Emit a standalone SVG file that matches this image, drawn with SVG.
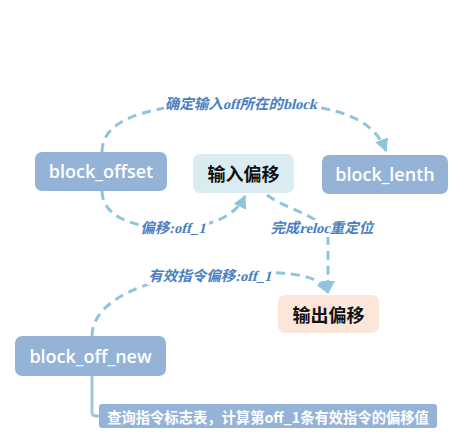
<svg xmlns="http://www.w3.org/2000/svg" width="464" height="444" viewBox="0 0 464 444">
<defs>
<marker id="ah" markerUnits="userSpaceOnUse" markerWidth="14" markerHeight="14" viewBox="0 0 14 14" refX="12" refY="7" orient="auto">
<path d="M0,0 L13,7 L0,14 z" fill="#8ec5db"/>
</marker>
<style>
.dash{fill:none;stroke:#8ec5db;stroke-width:3;stroke-dasharray:9 6;}
.solid{fill:none;stroke:#9ec8e0;stroke-width:3;}
.lbl{font-family:"Liberation Serif","Noto Sans CJK SC",serif;font-weight:bold;font-size:14.5px;fill:#4b7fc2;text-anchor:middle;dominant-baseline:central;}
.lblbg{fill:#ffffff;}
.nb{fill:#95b3d7;}
.nt{font-family:"Open Sans","Noto Sans CJK SC",sans-serif;font-size:18px;font-weight:600;fill:#ffffff;text-anchor:middle;dominant-baseline:central;}
.ct{font-family:"Noto Sans CJK SC",sans-serif;font-size:18px;font-weight:bold;fill:#111111;text-anchor:middle;dominant-baseline:central;}
</style>
</defs>
<rect width="464" height="444" fill="#ffffff"/>
<g id="connectors">
<path class="dash" d="M102,152 C102,115 160,103 240,103 C320,103 370,110 386,151" marker-end="url(#ah)"/>
<path class="dash" d="M102,191 C102,215 130,228 172,228 C212,228 236,215 245,196" marker-end="url(#ah)"/>
<path class="dash" d="M267,195 C290,212 328,216 328,240 L328,293" marker-end="url(#ah)"/>
<path class="dash" d="M92,336 C92,300 150,272 240,272 C300,272 320,276 328,293" marker-end="url(#ah)"/>
<path class="solid" d="M92,376 L92,412 Q92,416 96,416 L100,416"/>
<rect class="lblbg" x="164" y="95" width="157" height="18"/>
<text class="lbl" transform="translate(242,104) skewX(-14)">确定输入off所在的block</text>
<rect class="lblbg" x="139" y="220" width="70" height="17"/>
<text class="lbl" transform="translate(174,228) skewX(-14)">偏移:off_1</text>
<rect class="lblbg" x="268" y="220" width="110" height="17"/>
<text class="lbl" transform="translate(323,228) skewX(-14)">完成reloc重定位</text>
<rect class="lblbg" x="147" y="268" width="128" height="17"/>
<text class="lbl" transform="translate(211,276) skewX(-14)">有效指令偏移:off_1</text>
</g>
<g id="block_offset">
<rect class="nb" x="35" y="152" width="132" height="39" rx="7"/>
<text class="nt" x="101" y="171">block_offset</text>
</g>
<g id="input_offset">
<rect x="193" y="154" width="101" height="39" rx="7" fill="#daecf2"/>
<text class="ct" x="243.5" y="173">输入偏移</text>
</g>
<g id="block_lenth">
<rect class="nb" x="322" y="155" width="126" height="39" rx="7"/>
<text class="nt" x="385" y="174">block_lenth</text>
</g>
<g id="output_offset">
<rect x="278" y="295" width="101" height="38" rx="7" fill="#fce6d9"/>
<text class="ct" x="328.5" y="314">输出偏移</text>
</g>
<g id="block_off_new">
<rect class="nb" x="15" y="336" width="151" height="40" rx="7"/>
<text class="nt" x="90.5" y="356">block_off_new</text>
</g>
<g id="note">
<rect class="nb" x="99" y="404" width="338" height="24" rx="3"/>
<text class="nt" x="268" y="416" style="font-family:'Noto Sans CJK SC',sans-serif;font-size:14.3px;font-weight:bold">查询指令标志表，计算第off_1条有效指令的偏移值</text>
</g>
</svg>
